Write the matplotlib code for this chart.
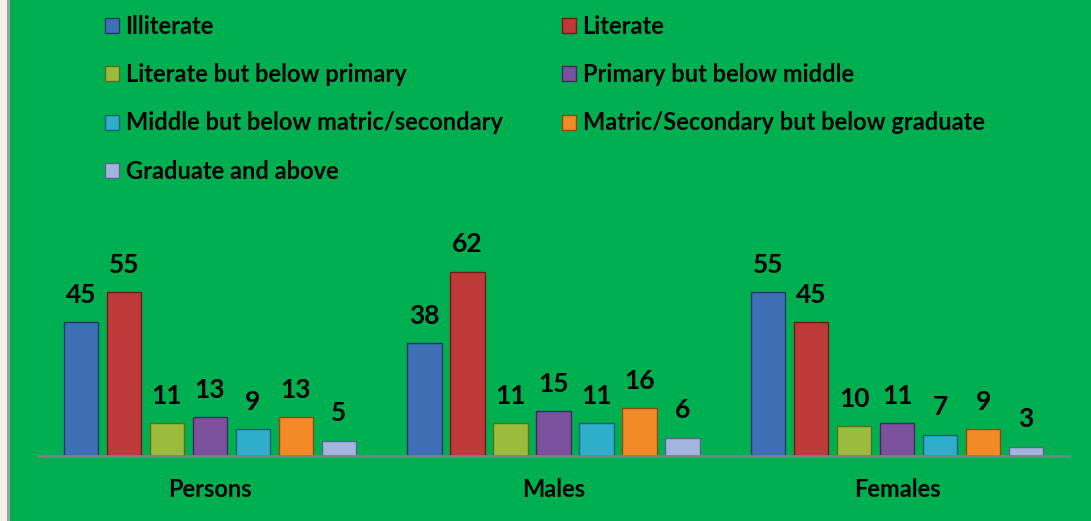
import numpy as np
import matplotlib.pyplot as plt
from matplotlib.patches import Rectangle

categories = ["Persons", "Males", "Females"]
series_names = [
    "Illiterate",
    "Literate",
    "Literate but below primary",
    "Primary but below middle",
    "Middle but below matric/secondary",
    "Matric/Secondary but below graduate",
    "Graduate and above",
]
illiterate = [45, 38, 55]
literate = [55, 62, 45]
below_primary = [11, 11, 10]
primary_middle = [13, 15, 11]
middle_matric = [9, 11, 7]
matric_graduate = [13, 16, 9]
graduate = [5, 6, 3]
series_values = [illiterate, literate, below_primary, primary_middle,
                 middle_matric, matric_graduate, graduate]

colors = ["#3E6FB5", "#BE3A38", "#9BBB3C", "#7B519D", "#2FAECB", "#F28A27", "#A3B5DD"]
edges = ["#1F3A66", "#6E1A19", "#56701C", "#42285C", "#175F72", "#8E4B0E", "#56668C"]
GREEN = "#00B050"

W, H = 1091, 521
fig = plt.figure(figsize=(W / 100, H / 100), dpi=100, facecolor=GREEN)
plt.rcParams['font.family'] = ['Lato', 'DejaVu Sans']

# light strip and border on the left edge
fig.patches.append(Rectangle((0, 0), 7 / W, 1, transform=fig.transFigure,
                             facecolor="#F2F2EA", edgecolor="none"))
fig.patches.append(Rectangle((7 / W, 0), 2.5 / W, 1, transform=fig.transFigure,
                             facecolor="#A0A0A0", edgecolor="none"))

ax = fig.add_axes([38 / W, (H - 455.5) / H, (1069 - 38) / W, 70 * 2.965 / H])
ax.set_facecolor(GREEN)

x = np.arange(len(categories))
pitch = 0.125
bw = 0.1
bars = []
for i, vals in enumerate(series_values):
    b = ax.bar(x + (i - 3) * pitch, vals, width=bw, color=colors[i],
               edgecolor=edges[i], linewidth=1, label=series_names[i], zorder=2)
    bars.append(b)
    for xi, v in zip(x + (i - 3) * pitch, vals):
        ax.annotate(str(v), (xi, v), xytext=(0, 11), textcoords="offset points",
                    ha="center", va="bottom", fontsize=19, fontweight="bold",
                    color="black", annotation_clip=False)

ax.set_xlim(-0.5, 2.5)
ax.set_ylim(0, 70)
ax.set_yticks([])
ax.set_xticks(x)
ax.set_xticklabels(categories, fontsize=17, fontweight="bold")
ax.tick_params(axis="x", length=0, pad=16)
for s in ["top", "right", "left"]:
    ax.spines[s].set_visible(False)
ax.spines["bottom"].set_color("#808080")
ax.spines["bottom"].set_linewidth(2)
ax.spines["bottom"].set_zorder(3)

leg_kw = dict(loc="upper left", frameon=False, ncol=1,
              prop={"weight": "bold", "size": 17}, handlelength=0.6,
              handleheight=0.6, handletextpad=0.27, labelspacing=1.08,
              borderpad=0, borderaxespad=0)
left_idx = [0, 2, 4, 6]
right_idx = [1, 3, 5]
fig.legend([bars[i] for i in left_idx], [series_names[i] for i in left_idx],
           bbox_to_anchor=(105 / W, 1 - 14.5 / H), **leg_kw)
fig.legend([bars[i] for i in right_idx], [series_names[i] for i in right_idx],
           bbox_to_anchor=(562 / W, 1 - 14.5 / H), **leg_kw)

fig.savefig("out.png", dpi=100, facecolor=GREEN)
